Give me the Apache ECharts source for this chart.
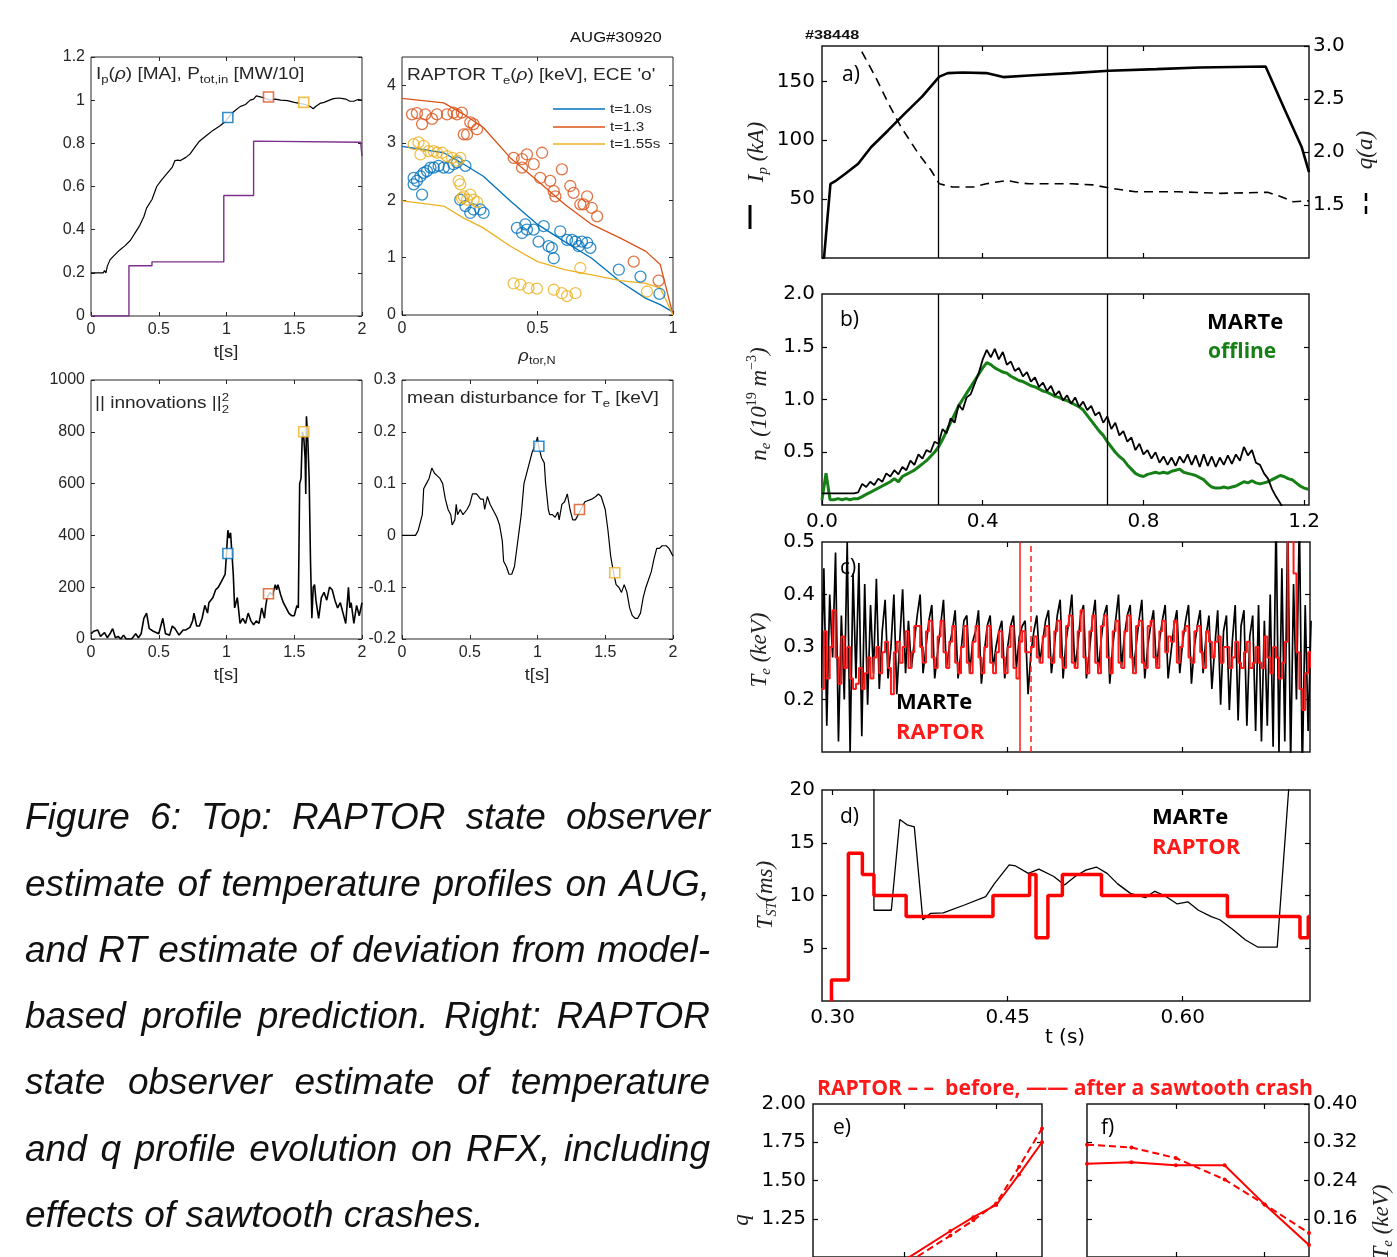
<!DOCTYPE html>
<html><head><meta charset="utf-8">
<script src="https://cdn.jsdelivr.net/npm/echarts@6/dist/echarts.min.js"></script>
<style>html,body{margin:0;padding:0;background:#fff}#c{width:1397px;height:1257px}</style>
</head><body><div id="c"></div>
<script>
// ================= DATA =================
// Panel 1: Ip(rho) [MA] and P_tot,in [MW/10] vs t[s]
const ipT = [0,0.09,0.1,0.11,0.12,0.14,0.17,0.21,0.25,0.29,0.33,0.36,0.39,0.41,0.45,0.485,0.52,0.56,0.6,0.62,0.64,0.66,0.7,0.73,0.77,0.8,0.85,0.9,0.95,0.99,1.02,1.05,1.1,1.14,1.175,1.2,1.22,1.25,1.28,1.32,1.36,1.4,1.45,1.5,1.54,1.58,1.62,1.64,1.66,1.69,1.72,1.76,1.79,1.83,1.86,1.88,1.91,1.94,1.97,2.0];
const ipV = [0.2,0.2,0.21,0.2,0.23,0.26,0.28,0.305,0.325,0.35,0.39,0.42,0.46,0.5,0.54,0.6,0.63,0.66,0.69,0.72,0.722,0.72,0.735,0.75,0.785,0.81,0.835,0.86,0.88,0.9,0.925,0.945,0.97,0.98,1.0,1.005,1.02,1.015,1.01,1.0,1.005,1.0,0.998,0.99,0.985,0.98,0.97,0.96,0.972,0.985,0.99,1.0,1.007,1.01,1.007,1.005,0.995,0.995,1.003,1.0];
const pT = [0,0.28,0.28,0.45,0.45,0.98,0.98,1.2,1.2,1.99,2.0];
const pV = [0,0,0.233,0.233,0.251,0.251,0.558,0.558,0.81,0.805,0.74];
// marker times and values (t=1.0, 1.3, 1.55 s)
const markT = [1.01,1.31,1.57];
const markIp = [0.92,1.015,0.99];
const markInn = [330,175,800];
const markDist = [0.172,0.05,-0.072];
// Panel 2: RAPTOR Te(rho) profiles
const rhoP = [0,0.154,0.228,0.3,0.4,0.5,0.6,0.7,0.806,0.9,0.953,1.0];
const te10 = [2.94,2.83,2.63,2.42,1.99,1.58,1.28,0.99,0.58,0.29,0.18,0.05];
const te13 = [3.78,3.70,3.5,3.27,2.74,2.34,1.93,1.58,1.34,1.11,0.88,0.0];
const te155 = [1.99,1.90,1.69,1.52,1.2,0.93,0.79,0.7,0.6,0.55,0.47,0.0];
// ECE points
const ece10 = [[0.043,2.39],[0.043,2.28],[0.055,2.34],[0.068,2.42],[0.08,2.48],[0.092,2.51],[0.105,2.57],[0.117,2.57],[0.135,2.60],[0.154,2.57],[0.172,2.57],[0.19,2.63],[0.203,2.66],[0.234,2.60],[0.074,2.10],[0.215,2.01],[0.234,1.90],[0.252,1.78],[0.264,1.84],[0.289,1.84],[0.301,1.78],[0.424,1.52],[0.443,1.43],[0.455,1.58],[0.461,1.49],[0.486,1.49],[0.504,1.28],[0.523,1.55],[0.541,1.20],[0.553,1.17],[0.56,0.99],[0.584,1.46],[0.609,1.31],[0.627,1.31],[0.64,1.28],[0.652,1.20],[0.664,1.28],[0.683,1.26],[0.695,1.17],[0.80,0.79],[0.88,0.67],[0.95,0.37]];
const ece13 = [[0.037,3.50],[0.055,3.52],[0.074,3.33],[0.086,3.50],[0.111,3.42],[0.129,3.50],[0.166,3.50],[0.19,3.53],[0.203,3.50],[0.221,3.53],[0.228,3.15],[0.24,3.15],[0.252,3.36],[0.264,3.33],[0.277,3.24],[0.412,2.74],[0.443,2.57],[0.443,2.72],[0.461,2.80],[0.486,2.63],[0.51,2.39],[0.517,2.83],[0.547,2.34],[0.56,2.16],[0.566,2.07],[0.59,2.54],[0.621,2.25],[0.633,2.13],[0.658,1.93],[0.67,1.93],[0.683,2.07],[0.70,1.87],[0.72,1.72],[0.855,0.93],[0.947,0.60]];
const ece155 = [[0.043,2.98],[0.061,3.01],[0.068,2.80],[0.08,2.95],[0.098,2.86],[0.117,2.86],[0.129,2.83],[0.148,2.83],[0.166,2.77],[0.185,2.74],[0.203,2.69],[0.215,2.74],[0.209,2.34],[0.215,2.28],[0.221,2.04],[0.228,2.07],[0.24,2.01],[0.252,2.10],[0.264,2.01],[0.277,1.97],[0.412,0.55],[0.437,0.53],[0.467,0.47],[0.498,0.46],[0.56,0.44],[0.59,0.38],[0.609,0.33],[0.64,0.38],[0.658,0.82],[0.904,0.41]];
// Panel 3: || innovations ||_2^2
const innT = [0,0.02,0.05,0.07,0.1,0.12,0.14,0.16,0.18,0.2,0.22,0.24,0.26,0.3,0.33,0.35,0.37,0.39,0.41,0.43,0.46,0.5,0.52,0.53,0.55,0.58,0.6,0.62,0.65,0.68,0.7,0.73,0.75,0.76,0.78,0.8,0.82,0.84,0.86,0.87,0.9,0.92,0.94,0.96,0.98,0.99,1.0,1.01,1.02,1.03,1.05,1.06,1.08,1.1,1.12,1.14,1.16,1.18,1.2,1.22,1.24,1.26,1.28,1.29,1.3,1.32,1.34,1.36,1.37,1.38,1.4,1.42,1.44,1.46,1.48,1.5,1.52,1.53,1.54,1.55,1.56,1.57,1.58,1.585,1.59,1.6,1.61,1.62,1.63,1.64,1.65,1.66,1.68,1.7,1.72,1.74,1.76,1.78,1.8,1.82,1.84,1.86,1.88,1.9,1.91,1.92,1.94,1.96,1.98,2.0];
const innV = [20,30,35,10,25,5,20,40,5,10,0,15,0,0,20,5,20,80,100,40,30,20,60,80,20,15,50,40,15,35,35,45,70,100,50,50,80,130,100,140,160,190,200,220,240,250,330,420,390,410,250,120,160,60,80,60,100,70,55,70,60,120,80,130,160,180,170,210,190,210,170,140,120,100,90,90,130,120,600,620,800,780,700,560,860,770,620,300,80,200,210,150,80,160,180,150,200,190,150,120,140,100,60,200,120,140,60,130,90,140];
// Panel 4: mean disturbance for Te
const dT = [0,0.1,0.12,0.15,0.16,0.18,0.2,0.22,0.24,0.26,0.28,0.3,0.32,0.34,0.36,0.37,0.39,0.4,0.41,0.43,0.45,0.48,0.5,0.52,0.55,0.58,0.6,0.61,0.63,0.65,0.68,0.7,0.72,0.74,0.75,0.77,0.79,0.81,0.83,0.85,0.88,0.9,0.93,0.96,0.99,1.0,1.01,1.03,1.05,1.06,1.08,1.09,1.11,1.13,1.15,1.16,1.18,1.2,1.22,1.24,1.26,1.28,1.3,1.32,1.35,1.4,1.43,1.45,1.47,1.5,1.52,1.54,1.56,1.58,1.6,1.62,1.64,1.66,1.68,1.7,1.72,1.74,1.76,1.78,1.8,1.82,1.84,1.86,1.88,1.9,1.92,1.95,1.97,2.0];
const dV = [0,0,0.01,0.04,0.09,0.1,0.11,0.13,0.12,0.115,0.11,0.1,0.07,0.05,0.04,0.02,0.03,0.06,0.04,0.05,0.04,0.05,0.06,0.08,0.08,0.07,0.07,0.05,0.075,0.06,0.045,0.035,0.02,-0.01,-0.05,-0.06,-0.075,-0.075,-0.06,-0.02,0.04,0.1,0.13,0.16,0.18,0.19,0.17,0.15,0.14,0.1,0.05,0.04,0.04,0.035,0.045,0.03,0.06,0.065,0.08,0.05,0.03,0.03,0.04,0.05,0.065,0.07,0.075,0.08,0.075,0.05,0.01,-0.04,-0.07,-0.095,-0.1,-0.11,-0.095,-0.11,-0.14,-0.155,-0.16,-0.16,-0.15,-0.12,-0.1,-0.085,-0.07,-0.045,-0.025,-0.025,-0.02,-0.02,-0.025,-0.04];
// Panel a: Ip (kA) and q(a)
const aIpT = [0,0.005,0.021,0.032,0.058,0.09,0.122,0.165,0.207,0.249,0.292,0.313,0.35,0.409,0.451,0.515,0.621,0.714,0.833,0.939,1.104,1.152,1.194,1.212];
const aIpV = [0,0,63,65,71.5,80,94,108.5,123,137,154,157,157.5,157,153.6,155,157,159,160.4,161.8,162.6,125.6,94,73];
const aQT = [0.099,0.133,0.165,0.196,0.239,0.271,0.292,0.324,0.377,0.409,0.44,0.462,0.49,0.515,0.568,0.621,0.674,0.716,0.78,0.886,0.992,1.109,1.141,1.173,1.212];
const aQV = [2.946,2.71,2.46,2.24,1.99,1.83,1.70,1.67,1.67,1.70,1.72,1.73,1.71,1.70,1.70,1.70,1.69,1.66,1.625,1.625,1.61,1.62,1.58,1.53,1.54];
const abLines = [0.289,0.713];
// Panel b: ne, sampled every 0.01 s from t=0
const bDt = 0.01;
const neMarte = [0.11,0.11,0.11,0.11,0.11,0.11,0.11,0.11,0.11,0.12,0.20,0.17,0.22,0.19,0.25,0.22,0.30,0.27,0.33,0.29,0.36,0.33,0.42,0.38,0.48,0.44,0.52,0.50,0.60,0.58,0.72,0.68,0.82,0.78,0.95,0.90,1.02,1.05,1.15,1.25,1.38,1.47,1.40,1.48,1.38,1.45,1.33,1.36,1.27,1.30,1.22,1.26,1.17,1.21,1.12,1.16,1.08,1.13,1.04,1.08,0.99,1.04,0.96,1.02,0.93,0.98,0.90,0.94,0.85,0.88,0.78,0.84,0.72,0.78,0.66,0.70,0.60,0.64,0.52,0.58,0.48,0.52,0.44,0.50,0.40,0.46,0.38,0.45,0.37,0.46,0.40,0.48,0.38,0.47,0.36,0.48,0.37,0.46,0.36,0.45,0.38,0.47,0.39,0.48,0.42,0.55,0.47,0.52,0.40,0.38,0.30,0.25,0.15,0.08,0.02,-0.05];
const neOffline = [0.05,0.30,0.05,0.05,0.06,0.05,0.06,0.05,0.06,0.06,0.08,0.10,0.12,0.14,0.16,0.18,0.20,0.22,0.25,0.22,0.27,0.29,0.31,0.33,0.36,0.39,0.42,0.46,0.50,0.55,0.62,0.70,0.78,0.86,0.94,1.00,1.06,1.12,1.18,1.24,1.30,1.35,1.33,1.30,1.28,1.26,1.25,1.22,1.20,1.18,1.17,1.15,1.13,1.12,1.10,1.08,1.07,1.05,1.03,1.02,1.00,0.99,0.97,0.95,0.93,0.90,0.85,0.80,0.75,0.70,0.66,0.60,0.55,0.50,0.46,0.43,0.38,0.34,0.30,0.28,0.27,0.29,0.30,0.31,0.30,0.31,0.30,0.32,0.33,0.34,0.31,0.30,0.29,0.28,0.26,0.24,0.20,0.17,0.16,0.16,0.17,0.16,0.17,0.18,0.20,0.22,0.21,0.23,0.21,0.20,0.21,0.22,0.24,0.26,0.28,0.27,0.25,0.24,0.21,0.18,0.16,0.15];
// Panel c: Te (keV), sampled every 0.0025 s from t=0.29
const cT0 = 0.29, cDt = 0.0025;
const teMarte = [0.22,0.45,0.15,0.40,0.28,0.48,0.12,0.36,0.20,0.50,0.10,0.44,0.24,0.46,0.13,0.42,0.19,
 0.38,0.25,0.43,0.22,0.33,0.39,0.24,0.30,0.40,0.21,0.31,0.41,0.25,0.35,
 0.26,0.31,0.36,0.40,0.25,0.30,0.35,0.38,0.24,0.29,0.34,0.39,0.26,0.30,0.33,0.37,0.24,0.29,0.35,0.36,0.25,0.31,0.33,0.37,0.23,0.29,0.34,0.36,0.26,0.30,0.33,0.35,0.24,0.30,0.34,0.36,0.26,0.32,
 0.34,0.35,0.21,0.29,0.33,0.36,0.27,0.31,0.35,0.37,0.25,0.30,0.36,0.39,0.24,0.31,0.35,0.40,0.26,0.30,0.36,0.38,0.24,0.29,0.35,0.39,0.25,0.31,0.36,0.38,0.23,0.30,0.35,0.40,0.26,0.32,0.36,0.38,0.25,0.30,0.35,0.39,0.24,0.30,0.34,0.37,0.26,0.31,0.35,0.38,0.24,0.29,0.34,0.37,0.25,0.31,0.35,0.38,0.23,0.30,0.34,0.37,0.25,0.32,
 0.36,0.22,0.30,0.37,0.19,0.33,0.36,0.18,0.31,0.38,0.16,0.34,0.37,0.15,0.32,0.36,
 0.14,0.38,0.12,0.35,0.15,0.40,0.11,0.55,0.10,0.45,0.12,0.55,0.08,0.42,0.20,0.55,0.06,0.38,0.14,0.35];
const teRaptor = [0.22,0.33,0.24,0.30,0.37,0.28,0.23,0.32,0.26,0.30,0.24,0.22,0.23,0.26,0.22,0.25,0.28,
 0.24,0.28,0.30,0.25,0.29,0.31,0.26,0.21,0.29,0.31,0.27,0.30,0.33,0.26,
 0.29,0.34,0.34,0.30,0.27,0.33,0.35,0.28,0.26,0.32,0.35,0.29,0.26,0.31,0.34,0.27,0.25,0.30,0.34,0.27,0.25,0.31,0.34,0.28,0.25,0.30,0.34,0.27,0.25,0.29,0.33,0.28,0.25,0.30,0.34,0.26,0.24,0.31,
 0.33,0.29,0.29,0.30,0.32,0.28,0.27,0.32,0.34,0.28,0.27,0.33,0.35,0.28,0.26,0.34,0.36,0.27,0.26,0.33,0.37,0.28,0.25,0.33,0.36,0.27,0.25,0.34,0.36,0.28,0.25,0.33,0.35,0.27,0.26,0.33,0.36,0.28,0.25,0.34,0.35,0.27,0.26,0.34,0.35,0.28,0.26,0.33,0.35,0.29,0.32,0.31,0.35,0.27,0.30,0.33,0.34,0.28,0.27,0.33,0.34,0.29,0.26,0.33,
 0.31,0.28,0.31,0.32,0.27,0.30,0.30,0.26,0.28,0.31,0.27,0.26,0.29,0.31,0.26,0.27,
 0.30,0.27,0.26,0.32,0.28,0.25,0.30,0.28,0.24,0.27,0.31,0.55,0.55,0.44,0.29,0.22,0.18,0.25,0.29,0.26];
const cLines = [0.4595,0.471];
// Panel d: sawtooth period T_ST (ms)
const stT = [0.299,0.299,0.3135,0.3255,0.3354,0.363,0.4374,0.4688,0.4743,0.4845,0.4969,0.5304,0.6383,0.7005,0.7076,0.7091];
const stV = [0,2,14,12,10,8,10,12,6,10,12,10,8,6,8,8];
const stMarteT = [0.3354,0.3354,0.3503,0.3576,0.3638,0.37,0.3773,0.3838,0.3948,0.413,0.4312,0.4385,0.4513,0.4568,0.4677,0.4768,0.4896,0.4987,0.5078,0.5169,0.526,0.5352,0.5443,0.5552,0.568,0.576,0.5844,0.5953,0.6044,0.6135,0.6245,0.6318,0.6427,0.6536,0.6646,0.681,0.6908,0.695];
const stMarteV = [30,8.6,8.6,17.2,16.7,16.5,7.7,8.3,8.35,9.1,9.9,11.1,12.9,12.8,12.1,12.5,11.8,11.0,11.8,12.4,12.7,12.1,11.1,10.2,9.8,10.4,10.0,9.2,9.4,8.6,8.0,7.7,6.8,5.8,5.1,5.1,20,30];
// Panels e, f: q and Te profiles before / after a sawtooth crash
const eRho = [0,0.1,0.2,0.3,0.35,0.4,0.45,0.5];
const qAfter = [0.85,0.88,0.98,1.17,1.26,1.34,1.54,1.75];
const qBefore = [0.82,0.85,0.95,1.14,1.24,1.35,1.59,1.84];
const fRho = [0,0.1,0.2,0.31,0.4,0.5];
const tAfter = [0.275,0.278,0.272,0.272,0.19,0.105];
const tBefore = [0.315,0.309,0.287,0.242,0.19,0.13];
// Caption
const capLines = ["Figure 6: Top:  RAPTOR state observer","estimate of temperature profiles on AUG,","and RT estimate of deviation from model-","based profile prediction. Right: RAPTOR","state observer estimate of temperature","and q profile evolution on RFX, including","effects of sawtooth crashes."];

// ================= BUILD =================
const C1='#0072BD', C2='#D95319', C3='#EDB120', CP='#7E2F8E';
const FL='"Liberation Sans", Arial, sans-serif', FR='"DejaVu Sans", sans-serif', FS='"Liberation Serif", serif', FO='"Open Sans", sans-serif';
const grids=[], xAxes=[], yAxes=[], series=[], G=[];
const zip=(a,b)=>a.map((v,i)=>[v,b[i]]);
const grid1=(t0,dt,arr)=>arr.map((v,i)=>[+(t0+i*dt).toFixed(5),v]);
const mctx=document.createElement('canvas').getContext('2d');
function tw(t,s,f,st,w){mctx.font=(st||'normal')+' '+(w||'normal')+' '+s+'px '+f;return mctx.measureText(t).width;}

function ax(kind,gi,pos,min,max,ticks,labels,fmt,st){
  const o={type:'value',gridIndex:gi,position:pos,min,max,
    axisLine:{show:false,onZero:false},splitLine:{show:false},splitArea:{show:false},
    axisTick:{show:!!(ticks&&ticks.length),inside:true,length:st.tl,customValues:ticks&&ticks.length?ticks:undefined,lineStyle:{color:st.c,width:st.tw}},
    axisLabel:{show:!!labels,customValues:labels||undefined,formatter:fmt,margin:st.m,color:st.c,fontFamily:st.ff,fontSize:st.fs}};
  if(kind==='x'){xAxes.push(o);return xAxes.length-1;}
  yAxes.push(o);return yAxes.length-1;
}
function panel(r,st,xb,xt,yl,yr,st2){
  const gi=grids.length;
  grids.push({left:r[0],top:r[1],width:r[2],height:r[3],show:true,borderColor:st.bc,borderWidth:st.bw,backgroundColor:'rgba(0,0,0,0)'});
  const x=ax('x',gi,'bottom',xb.min,xb.max,xb.ticks,xb.labels,xb.fmt,st);
  ax('x',gi,'top',xb.min,xb.max,xt.ticks,null,null,st);
  const y=ax('y',gi,'left',yl.min,yl.max,yl.ticks,yl.labels,yl.fmt,st);
  const yy=yr||yl;
  const y2=ax('y',gi,'right',yy.min,yy.max,yy.ticks,yr?yr.labels:null,yr?yr.fmt:null,st2||st);
  return {x,y,y2};
}
function line(p,data,ls,extra){
  series.push(Object.assign({type:'line',xAxisIndex:p.x,yAxisIndex:p.y,data,showSymbol:false,symbol:'none',clip:true,silent:true,animation:false,lineStyle:ls,z:3},extra||{}));
}
function squares(p,ts,vs){
  series.push({type:'scatter',xAxisIndex:p.x,yAxisIndex:p.y,symbol:'rect',symbolSize:10,silent:true,animation:false,z:5,
    data:ts.map((t,i)=>({value:[t,vs[i]],itemStyle:{color:'#fff',borderColor:[C1,C2,C3][i],borderWidth:1.6}}))});
}
function circles(p,data,c){
  series.push({type:'scatter',xAxisIndex:p.x,yAxisIndex:p.y,symbol:'circle',symbolSize:11,silent:true,animation:false,z:4,
    data,itemStyle:{color:'rgba(0,0,0,0)',borderColor:c,borderWidth:1.3}});
}
function segs(x,y,parts,o){
  o=o||{};const rot=o.rot||0,ct=Math.cos(rot),sn=Math.sin(rot),fam=o.fam||FL,col=o.color||'#262626',sx=o.sx||1;
  let total=0;parts.forEach(p=>{if(!p.na)total+=sx*tw(p.t,p.s,p.f||fam,p.i?'italic':'normal',p.b?'bold':'normal');});
  let a=o.anchor==='center'?-total/2:(o.anchor==='right'?-total:0);
  parts.forEach(p=>{
    const dy=p.dy||0,f=p.f||fam;
    G.push({type:'text',x:x+a*ct+dy*sn,y:y-a*sn+dy*ct,rotation:rot,scaleX:sx,z:50,silent:true,
      style:{text:p.t,fontSize:p.s,fontFamily:f,fontStyle:p.i?'italic':'normal',fontWeight:p.b?'bold':'normal',fill:p.c||col,textAlign:'left',textVerticalAlign:'middle'}});
    if(!p.na)a+=sx*tw(p.t,p.s,f,p.i?'italic':'normal',p.b?'bold':'normal');
  });
}
function gline(x1,y1,x2,y2,c,w,dash){G.push({type:'line',z:50,silent:true,shape:{x1,y1,x2,y2},style:{stroke:c,lineWidth:w,lineDash:dash||null}});}

// ---- left (MATLAB style) ----
const SL={bc:'#262626',bw:1,c:'#262626',tl:4,tw:1,m:6,ff:FL,fs:16};
const fx=v=>String(+v.toFixed(2));
const p1=panel([91,57,271,259],SL,{min:0,max:2,ticks:[0,0.5,1,1.5,2],labels:[0,0.5,1,1.5,2],fmt:fx},{ticks:[0.5,1,1.5]},{min:0,max:1.2,ticks:[0,0.2,0.4,0.6,0.8,1,1.2],labels:[0,0.2,0.4,0.6,0.8,1,1.2],fmt:fx});
line(p1,zip(ipT,ipV),{color:'#000',width:1.2});
line(p1,zip(pT,pV),{color:CP,width:1.4});
squares(p1,markT,markIp);

const p2=panel([402,57,271,258],SL,{min:0,max:1,ticks:[0,0.5,1],labels:[0,0.5,1],fmt:fx},{ticks:[0.5]},{min:0,max:4.5,ticks:[0,1,2,3,4],labels:[0,1,2,3,4],fmt:fx});
line(p2,zip(rhoP,te10),{color:C1,width:1.3});
line(p2,zip(rhoP,te13),{color:C2,width:1.3});
line(p2,zip(rhoP,te155),{color:C3,width:1.3});
circles(p2,ece10,C1);circles(p2,ece13,C2);circles(p2,ece155,C3);

const p3=panel([91,380,271,259],SL,{min:0,max:2,ticks:[0,0.5,1,1.5,2],labels:[0,0.5,1,1.5,2],fmt:fx},{ticks:[0.5,1,1.5]},{min:0,max:1000,ticks:[0,200,400,600,800,1000],labels:[0,200,400,600,800,1000],fmt:fx});
line(p3,zip(innT,innV),{color:'#000',width:1.6});
squares(p3,markT,markInn);

const p4=panel([402,380,271,259],SL,{min:0,max:2,ticks:[0,0.5,1,1.5,2],labels:[0,0.5,1,1.5,2],fmt:fx},{ticks:[0.5,1,1.5]},{min:-0.2,max:0.3,ticks:[-0.2,-0.1,0,0.1,0.2,0.3],labels:[-0.2,-0.1,0,0.1,0.2,0.3],fmt:fx});
line(p4,zip(dT,dV),{color:'#000',width:1.2});
squares(p4,markT,markDist);

// ---- right (matplotlib style) ----
const SR={bc:'#1a1a1a',bw:1.5,c:'#000',tl:5,tw:1.2,m:7,ff:FR,fs:20};
const SR2=Object.assign({},SR,{m:4});
const f1=v=>v.toFixed(1), f0=v=>String(v), f2=v=>v.toFixed(2);
const mk=(vals)=>({silent:true,symbol:['none','none'],label:{show:false},animation:false,lineStyle:{color:'#000',width:1.3,type:'solid'},data:vals.map(v=>({xAxis:v}))});

const pa=panel([822,46,487,212],SR,{min:0,max:1.212,ticks:[0.4,0.8]},{ticks:[0.4,0.8]},{min:0,max:180,ticks:[50,100,150],labels:[50,100,150],fmt:f0},{min:1,max:3,ticks:[1.5,2,2.5,3],labels:[1.5,2,2.5,3],fmt:f1},SR2);
line(pa,zip(aIpT,aIpV),{color:'#000',width:2.6},{markLine:mk(abLines)});
line(pa,zip(aQT,aQV),{color:'#000',width:1.6,type:[9,6]},{yAxisIndex:pa.y2});

const pb=panel([822,294,487,211],SR,{min:0,max:1.212,ticks:[0,0.4,0.8,1.2],labels:[0,0.4,0.8,1.2],fmt:f1},{ticks:[0.4,0.8]},{min:0,max:2,ticks:[0.5,1,1.5],labels:[0.5,1,1.5,2],fmt:f1});
line(pb,grid1(0,bDt,neOffline),{color:'#168016',width:3});
line(pb,grid1(0,bDt,neMarte),{color:'#000',width:1.8},{markLine:mk(abLines)});

const pc=panel([822,542,488,210],SR,{min:0.2909,max:0.7091,ticks:[0.45,0.6]},{ticks:[0.45,0.6]},{min:0.1,max:0.5,ticks:[0.2,0.3,0.4],labels:[0.2,0.3,0.4,0.5],fmt:f1});
line(pc,grid1(cT0,cDt,teMarte),{color:'#000',width:1.7});
line(pc,grid1(cT0,cDt,teRaptor),{color:'#ff1a1a',width:2},{step:'end',markLine:{silent:true,symbol:['none','none'],label:{show:false},animation:false,
  data:[{xAxis:cLines[0],lineStyle:{color:'#ff1a1a',width:1.5,type:'solid'}},{xAxis:cLines[1],lineStyle:{color:'#ff1a1a',width:1.5,type:[6,4]}}]}});

const pd=panel([822,790,488,211],SR,{min:0.2909,max:0.7091,ticks:[0.3,0.45,0.6],labels:[0.3,0.45,0.6],fmt:f2},{ticks:[0.3,0.45,0.6]},{min:0,max:20,ticks:[5,10,15],labels:[5,10,15,20],fmt:f0});
line(pd,zip(stMarteT,stMarteV),{color:'#000',width:1.3});
line(pd,zip(stT,stV),{color:'#ff0000',width:3.5},{step:'end'});

const pe=panel([813,1104,229,196],SR,{min:0,max:0.5,ticks:[0.2,0.4]},{ticks:[0.2,0.4]},{min:1,max:2,ticks:[1.25,1.5,1.75],labels:[1.25,1.5,1.75,2],fmt:f2});
line(pe,zip(eRho,qBefore),{color:'#ff0000',width:2,type:[7,4]},{showSymbol:true,symbol:'circle',symbolSize:4,itemStyle:{color:'#ff0000'}});
line(pe,zip(eRho,qAfter),{color:'#ff0000',width:2},{showSymbol:true,symbol:'circle',symbolSize:4,itemStyle:{color:'#ff0000'}});

const pf=panel([1087,1104,222,196],SR,{min:0,max:0.5,ticks:[0.2,0.4]},{ticks:[0.2,0.4]},{min:0.08,max:0.4,ticks:[0.16,0.24,0.32]},{min:0.08,max:0.4,ticks:[0.16,0.24,0.32,0.4],labels:[0.16,0.24,0.32,0.4],fmt:f2},SR2);
line(pf,zip(fRho,tBefore),{color:'#ff0000',width:2,type:[7,4]},{yAxisIndex:pf.y2,showSymbol:true,symbol:'circle',symbolSize:4,itemStyle:{color:'#ff0000'}});
line(pf,zip(fRho,tAfter),{color:'#ff0000',width:2},{yAxisIndex:pf.y2,showSymbol:true,symbol:'circle',symbolSize:4,itemStyle:{color:'#ff0000'}});

// ---- texts ----
const LS={sx:1.19};
segs(570,38,[{t:'AUG#30920',s:14}],{color:'#111',sx:1.19});
segs(96,75,[{t:'I',s:16},{t:'p',s:11,dy:5},{t:'(',s:16},{t:'ρ',s:16,i:true},{t:') [MA], P',s:16},{t:'tot,in',s:11,dy:5},{t:' [MW/10]',s:16}],LS);
segs(407,76,[{t:'RAPTOR T',s:16},{t:'e',s:11,dy:5},{t:'(',s:16},{t:'ρ',s:16,i:true},{t:") [keV], ECE 'o'",s:16}],LS);
segs(95,404,[{t:'|| innovations ||',s:16},{t:'2',s:11,dy:-6,na:true},{t:'2',s:11,dy:6}],LS);
segs(407,399,[{t:'mean disturbance for T',s:16},{t:'e',s:11,dy:5},{t:' [keV]',s:16}],LS);
segs(226,353,[{t:'t[s]',s:16}],{anchor:'center',sx:1.15});
segs(226,676,[{t:'t[s]',s:16}],{anchor:'center',sx:1.15});
segs(537,676,[{t:'t[s]',s:16}],{anchor:'center',sx:1.15});
segs(537,357,[{t:'ρ',s:16,i:true},{t:'tor,N',s:11,dy:4}],{anchor:'center',sx:1.15});
// legend panel 2
[[C1,'t=1.0s',109],[C2,'t=1.3',127],[C3,'t=1.55s',144]].forEach(l=>{gline(553,l[2],605,l[2],l[0],1.4);segs(610,l[2],[{t:l[1],s:13}],{sx:1.17});});

// right column labels
segs(805,35,[{t:'#38448',s:13,b:true}],{color:'#111',sx:1.25});
segs(842,75,[{t:'a)',s:21}],{fam:FO,color:'#000'});
segs(840,320,[{t:'b)',s:21}],{fam:FO,color:'#000'});
segs(840,568,[{t:'c)',s:21}],{fam:FO,color:'#000'});
segs(840,817,[{t:'d)',s:21}],{fam:FO,color:'#000'});
segs(833,1128,[{t:'e)',s:21}],{fam:FO,color:'#000'});
segs(1101,1128,[{t:'f)',s:21}],{fam:FO,color:'#000'});
segs(1207,323,[{t:'MARTe',s:22,b:true}],{fam:FO,color:'#000'});
segs(1208,352,[{t:'offline',s:21,b:true}],{fam:FO,color:'#168016'});
segs(896,703,[{t:'MARTe',s:22,b:true}],{fam:FO,color:'#000'});
segs(896,733,[{t:'RAPTOR',s:22,b:true}],{fam:FO,color:'#ff1a1a'});
segs(1152,818,[{t:'MARTe',s:22,b:true}],{fam:FO,color:'#000'});
segs(1152,848,[{t:'RAPTOR',s:22,b:true}],{fam:FO,color:'#ff1a1a'});
segs(1065,1038,[{t:'t (s)',s:20}],{anchor:'center',fam:FR,color:'#000'});
// rotated y titles
const R=Math.PI/2;
segs(757,152,[{t:'I',s:23,i:true},{t:'p',s:15,i:true,dy:6},{t:' (kA)',s:23,i:true}],{rot:R,anchor:'center',fam:FS,color:'#222'});
gline(750,205,750,229,'#000',3);
segs(1366,150,[{t:'q(a)',s:23,i:true}],{rot:R,anchor:'center',fam:FS,color:'#222'});
gline(1366,193,1366,217,'#000',2.5,[8,5]);
segs(760,404,[{t:'n',s:23,i:true},{t:'e',s:15,i:true,dy:6},{t:' (10',s:23,i:true},{t:'19',s:14,dy:-8},{t:' m',s:23,i:true},{t:'−3',s:14,dy:-8},{t:')',s:23,i:true}],{rot:R,anchor:'center',fam:FS,color:'#222'});
segs(760,650,[{t:'T',s:23,i:true},{t:'e',s:15,i:true,dy:6},{t:' (keV)',s:23,i:true}],{rot:R,anchor:'center',fam:FS,color:'#222'});
segs(766,895,[{t:'T',s:23,i:true},{t:'ST',s:14,i:true,dy:6},{t:'(ms)',s:23,i:true}],{rot:R,anchor:'center',fam:FS,color:'#222'});
segs(742,1220,[{t:'q',s:23,i:true}],{rot:R,anchor:'center',fam:FS,color:'#222'});
segs(1382,1222,[{t:'T',s:23,i:true},{t:'e',s:15,i:true,dy:6},{t:' (keV)',s:23,i:true}],{rot:R,anchor:'center',fam:FS,color:'#222'});
// title over e/f, fitted to width
(function(){const t='RAPTOR – –  before, —— after a sawtooth crash';const w=tw(t,22,FO,'normal','bold');const sc=(1313-817)/w;
 G.push({type:'text',x:817,y:1089,scaleX:sc,z:50,silent:true,style:{text:t,fontSize:22,fontFamily:FO,fontWeight:'bold',fill:'#ff1a1a',textAlign:'left',textVerticalAlign:'middle'}});})();
// caption, justified
(function(){
  const fam=FL,size=37,x0=25,x1=710,y0=819,lh=66.3,W=x1-x0;let sc=1;
  capLines.forEach((ln,i)=>{if(i<capLines.length-1){const w=tw(ln.replace(/\s+/g,' '),size,fam,'italic');sc=Math.min(sc,W/w);}});
  capLines.forEach((ln,i)=>{
    const words=ln.split(/\s+/);const ws=words.map(w=>tw(w,size,fam,'italic')*sc);
    const last=i===capLines.length-1;const sp=tw(' ',size,fam,'italic')*sc;
    const tot=ws.reduce((a,b)=>a+b,0);const gap=last?sp:(W-tot)/(words.length-1);
    let x=x0;
    words.forEach((w,j)=>{G.push({type:'text',x,y:y0+i*lh,scaleX:sc,z:50,silent:true,style:{text:w,fontSize:size,fontFamily:fam,fontStyle:'italic',fill:'#111',textAlign:'left',textVerticalAlign:'middle'}});x+=ws[j]+gap;});
  });
})();

const chart=echarts.init(document.getElementById('c'),null,{renderer:'canvas',width:1397,height:1257});
chart.setOption({backgroundColor:'#fff',animation:false,grid:grids,xAxis:xAxes,yAxis:yAxes,series,graphic:G});
</script></body></html>
